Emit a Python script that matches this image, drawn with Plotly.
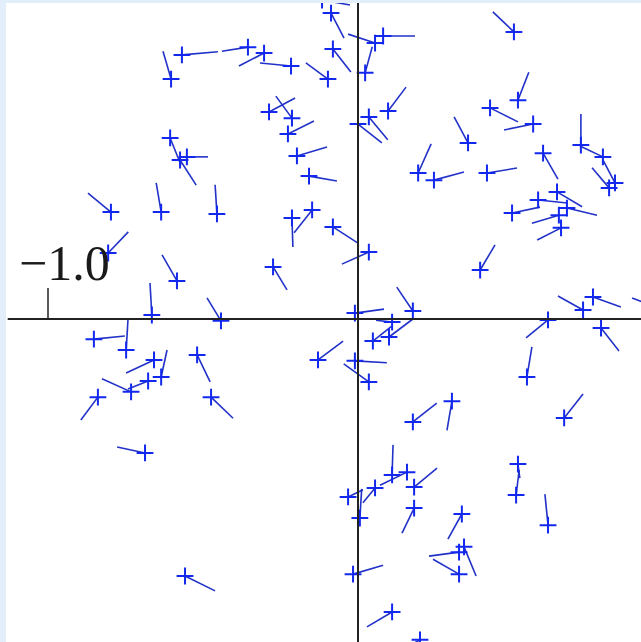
import plotly.graph_objects as go

# Sample points (x, y) and the vector attached to each point (u, v)
x = [-0.603, -0.568, -0.355, -0.303, -0.216, -0.097, -0.087, -0.081, 0.055, 0.081,
     0.023, -0.287, -0.213, -0.226, -0.197, -0.158, -0.606, -0.552, -0.574, -0.797,
     -0.635, -0.455, -0.213, -0.148, -0.081, 0.035, -0.274, -0.806, -0.584, -0.665,
     -0.442, 0.097, 0.035, 0.000, 0.194, 0.245, 0.503, 0.516, 0.426, 0.565,
     0.355, 0.719, 0.790, 0.829, 0.810, 0.597, 0.416, 0.642, 0.581, 0.674,
     0.497, 0.648, 0.655, 0.394, 0.177, -0.010, 0.726, 0.758, 0.942, 0.110,
     0.048, 0.100, -0.129, -0.010, 0.035, 0.613, 0.784, 0.545, 0.665, 0.303,
     0.177, 0.110, 0.158, 0.055, -0.032, 0.006, 0.181, 0.181, -0.016, 0.110,
     0.200, 0.516, 0.510, 0.613, 0.335, 0.342, 0.326, 0.326, -0.852, -0.748,
     -0.658, -0.635, -0.732, -0.677, -0.839, -0.474, -0.519, -0.687, -0.558, -0.116]
y = [0.774, 0.852, 0.877, 0.858, 0.816, 0.774, 0.987, 0.871, 0.890, 0.913,
     0.794, 0.668, 0.648, 0.597, 0.526, 0.461, 0.584, 0.523, 0.513, 0.345,
     0.345, 0.339, 0.326, 0.352, 0.297, 0.216, 0.168, 0.213, 0.123, 0.013,
     -0.006, 0.671, 0.652, 0.629, 0.471, 0.448, 0.926, 0.706, 0.681, 0.629,
     0.568, 0.561, 0.523, 0.439, 0.423, 0.535, 0.471, 0.410, 0.384, 0.358,
     0.342, 0.335, 0.294, 0.158, 0.026, 0.019, 0.029, 0.071, 0.045, -0.010,
     -0.071, -0.058, -0.132, -0.135, -0.203, -0.003, -0.029, -0.187, -0.319, -0.265,
     -0.332, -0.503, -0.494, -0.545, -0.574, -0.642, -0.542, -0.610, -0.823, -0.945,
     -1.035, -0.468, -0.568, -0.665, -0.629, -0.735, -0.752, -0.823, -0.065, -0.100,
     -0.132, -0.187, -0.235, -0.200, -0.252, -0.252, -0.116, -0.432, -0.829, 1.029]
u = [-0.026, 0.116, -0.084, -0.081, -0.100, -0.071, 0.042, 0.058, -0.087, 0.103,
     0.023, 0.084, -0.052, 0.084, 0.097, 0.090, 0.035, 0.068, 0.052, -0.074,
     -0.016, -0.006, 0.003, -0.058, 0.081, -0.087, 0.045, 0.065, -0.048, -0.006,
     -0.045, 0.058, 0.061, 0.077, 0.042, 0.097, -0.068, 0.035, 0.090, -0.094,
     -0.045, 0.000, -0.074, -0.039, -0.055, 0.048, 0.097, 0.081, 0.094, 0.097,
     0.090, -0.087, -0.077, 0.048, -0.052, 0.094, -0.081, 0.090, -0.058, -0.052,
     0.061, 0.077, 0.081, 0.103, -0.081, -0.071, 0.058, 0.016, 0.061, -0.016,
     0.077, 0.003, -0.087, -0.039, 0.048, 0.006, 0.074, -0.039, 0.097, -0.081,
     -0.048, 0.006, 0.010, -0.010, -0.045, 0.039, -0.097, -0.084, 0.100, 0.006,
     -0.090, 0.019, -0.094, -0.065, -0.055, 0.071, 0.042, -0.090, 0.097, 0.090]
v = [0.090, 0.010, -0.013, -0.042, 0.010, 0.052, -0.081, -0.074, 0.029, 0.000,
     0.084, 0.045, 0.071, 0.042, 0.029, -0.016, -0.087, 0.000, -0.081, 0.061,
     0.094, 0.094, -0.094, -0.074, -0.052, -0.039, -0.074, 0.068, 0.084, 0.103,
     0.074, 0.077, -0.074, -0.061, 0.094, 0.026, 0.065, 0.090, -0.045, -0.019,
     0.084, 0.100, 0.035, 0.074, 0.065, -0.084, 0.016, -0.048, -0.010, -0.023,
     0.019, -0.026, -0.039, 0.081, 0.077, 0.013, 0.045, -0.032, 0.023, 0.006,
     0.048, 0.058, 0.061, -0.006, 0.058, -0.058, -0.074, 0.097, 0.077, -0.094,
     0.061, 0.097, -0.042, -0.048, 0.023, 0.094, 0.061, -0.081, 0.029, -0.048,
     -0.026, -0.045, 0.081, 0.100, -0.081, -0.094, -0.013, 0.048, 0.010, 0.097,
     -0.042, 0.087, 0.042, -0.026, -0.074, -0.068, -0.087, 0.019, -0.048, -0.016]

tick_values = [-1.0]
tick_labels = ["\u22121.0"]

LINE_BLUE = "#2232c8"
MARK_BLUE = "#1228ee"

# Build the vector segments as one broken polyline
seg_x, seg_y = [], []
for xi, yi, ui, vi in zip(x, y, u, v):
    seg_x += [xi, xi + ui, None]
    seg_y += [yi, yi + vi, None]

fig = go.Figure()
fig.add_trace(go.Scatter(
    x=seg_x, y=seg_y, mode="lines",
    line=dict(color=LINE_BLUE, width=1.6),
    hoverinfo="skip", showlegend=False,
))
fig.add_trace(go.Scatter(
    x=x, y=y, mode="markers",
    marker=dict(symbol="cross-thin", size=12,
                line=dict(color=MARK_BLUE, width=2)),
    showlegend=False,
))

# Coordinate axes through the origin plus a single labelled tick
fig.add_shape(type="line", xref="x", yref="y", x0=-1.13, x1=0.92, y0=0, y1=0,
              line=dict(color="#222222", width=2))
fig.add_shape(type="line", xref="x", yref="y", x0=0, x1=0, y0=-1.05, y1=1.03,
              line=dict(color="#222222", width=2))
for tv, tl in zip(tick_values, tick_labels):
    fig.add_shape(type="line", xref="x", yref="y", x0=tv, x1=tv, y0=0, y1=0.1,
                  line=dict(color="#222222", width=1.5))
    fig.add_annotation(x=tv + 0.052, y=0.18, xref="x", yref="y", text=tl,
                       showarrow=False, xanchor="center", yanchor="middle",
                       font=dict(family="Liberation Serif", size=50, color="#1a1a1a"))

fig.update_xaxes(range=[-1.1355, 0.9129], visible=False, fixedrange=True)
fig.update_yaxes(range=[-1.0419, 1.0194], visible=False, fixedrange=True)
fig.update_layout(
    width=641, height=642,
    margin=dict(l=6, r=0, t=3, b=0),
    paper_bgcolor="#e3eefb",
    plot_bgcolor="#ffffff",
)

fig.write_html("out.html")
